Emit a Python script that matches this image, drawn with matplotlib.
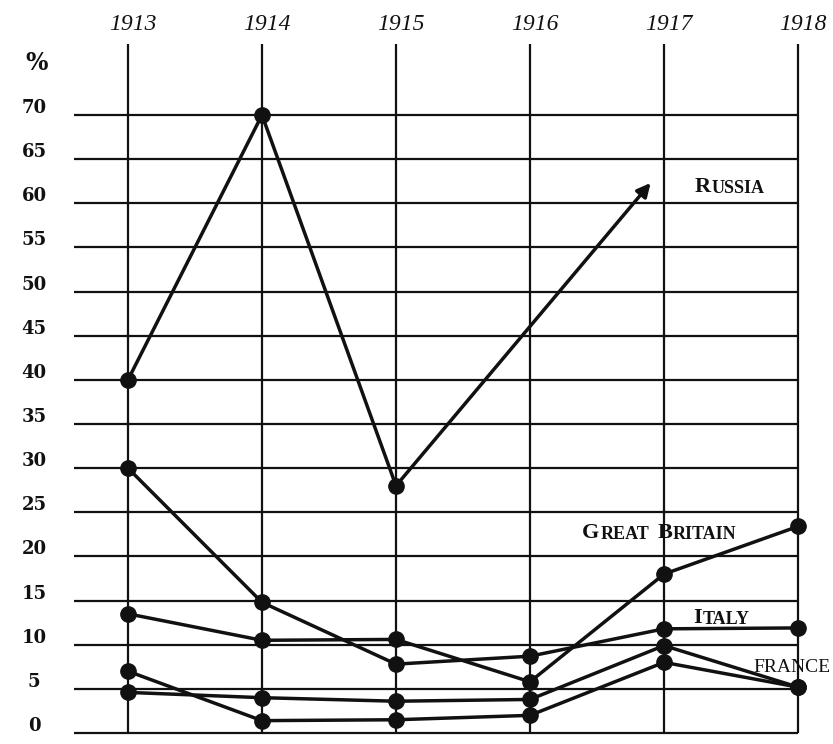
"""Redraw the 1913-1918 percentage chart (Russia, Great Britain, Italy, France)."""

import matplotlib

matplotlib.use("Agg")
import matplotlib.pyplot as plt

YEARS = [1913, 1914, 1915, 1916, 1917, 1918]
Y_TICKS = list(range(0, 75, 5))

# Russia stops at 1915 and then runs off the scale with an arrow
RUSSIA = [40.0, 70.0, 28.0]
RUSSIA_ARROW_YEAR = 1916.9
RUSSIA_ARROW_VALUE = 62.3

GREAT_BRITAIN = [13.5, 10.5, 10.6, 5.8, 18.0, 23.4]
ITALY = [30.0, 14.8, 7.8, 8.7, 11.8, 11.9]
FRANCE = [4.6, 4.0, 3.6, 3.8, 9.9, 5.2]
UNLABELLED = [7.0, 1.4, 1.5, 2.0, 8.0, 5.2]

INK = "#111111"
SERIF = "Liberation Serif"


def small_caps(ax, x, y, words, big=16, small=13):
    """Fake small caps: large first letter, smaller rest, chained word by word."""

    prev = None
    for word in words:
        if prev is None:
            head = ax.text(x, y, word[0], fontsize=big, family=SERIF, weight="bold",
                           color=INK, ha="left", va="center", zorder=5)
        else:
            head = ax.annotate(word[0], xy=(1, 0), xycoords=prev, xytext=(6, 0),
                               textcoords="offset points", fontsize=big, family=SERIF,
                               weight="bold", color=INK, ha="left", va="bottom", zorder=5)
        prev = ax.annotate(word[1:], xy=(1, 0), xycoords=head, xytext=(0.5, 0),
                           textcoords="offset points", fontsize=small, family=SERIF,
                           weight="bold", color=INK, ha="left", va="bottom", zorder=5)


def main() -> None:
    fig = plt.figure(figsize=(8.33, 7.44), dpi=100)
    ax = fig.add_axes([0, 0, 1, 1])
    ax.set_xlim(1912.045, 1918.261)
    ax.set_ylim(-1.246, 83.025)
    ax.axis("off")

    # ruled grid
    ax.hlines(Y_TICKS, 1912.6, YEARS[-1], color=INK, lw=1.6, zorder=1)
    ax.vlines(YEARS, 0, 78, color=INK, lw=1.6, zorder=1)

    for value in Y_TICKS:
        ax.text(1912.30, value + 0.8, str(value), fontsize=13, family="DejaVu Serif",
                weight="bold", color=INK, ha="center", va="center")
    ax.text(1912.32, 75.9, "%", fontsize=17, family="DejaVu Serif", weight="bold",
            color=INK, ha="center", va="center")

    for year in YEARS:
        ax.text(year + 0.04, 80.2, str(year), fontsize=17, family=SERIF, style="italic",
                color=INK, ha="center", va="center")

    line_style = dict(color=INK, lw=2.5, marker="o", ms=11, zorder=3)
    for series in [GREAT_BRITAIN, ITALY, FRANCE, UNLABELLED]:
        ax.plot(YEARS, series, **line_style)
    ax.plot(YEARS[: len(RUSSIA)], RUSSIA, **line_style)
    ax.annotate(
        "",
        xy=(RUSSIA_ARROW_YEAR, RUSSIA_ARROW_VALUE),
        xytext=(YEARS[len(RUSSIA) - 1], RUSSIA[-1]),
        arrowprops=dict(arrowstyle="-|>", lw=2.5, color=INK, mutation_scale=20,
                        shrinkA=0, shrinkB=0),
        zorder=3,
    )

    small_caps(ax, 1917.23, 61.9, ["RUSSIA"])
    small_caps(ax, 1916.39, 22.7, ["GREAT", "BRITAIN"])
    small_caps(ax, 1917.22, 13.0, ["ITALY"])
    ax.text(1917.665, 7.4, "FRANCE", fontsize=14, family=SERIF, color=INK,
            ha="left", va="center", zorder=5)

    fig.savefig("out.png", dpi=100, facecolor="white")
    plt.close(fig)


if __name__ == "__main__":
    main()
